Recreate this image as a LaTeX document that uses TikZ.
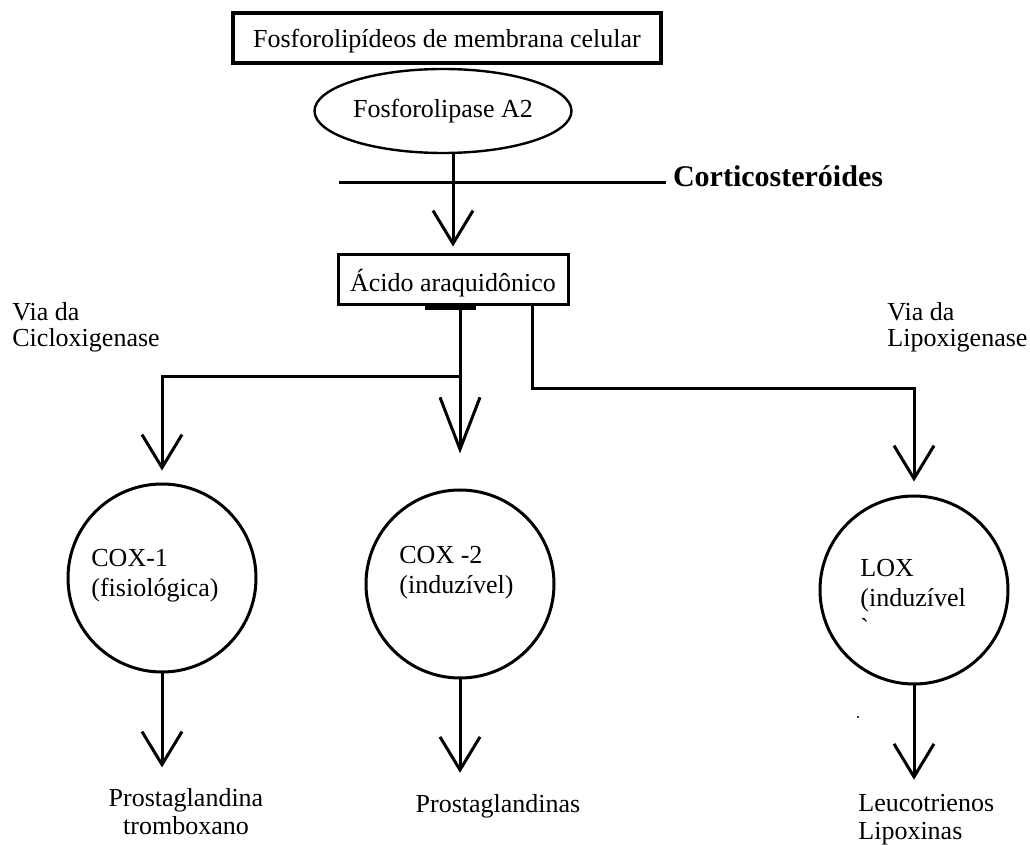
\documentclass[tikz,border=0pt]{standalone}
\usepackage{fontspec}
\setmainfont{Liberation Serif}
\usetikzlibrary{arrows.meta}
\usetikzlibrary{calc}
\usetikzlibrary{shapes.geometric}
\tikzset{caixa/.style={draw,line width=#1,inner sep=0pt,text depth=0pt},caixa/.default=1.5pt}
\tikzset{seta/.style={line width=1.5pt,-{Straight Barb[length=#1,width=20pt]}},seta/.default=16.5pt}
\tikzset{enzima/.style={draw,circle,line width=1.5pt,minimum size=94pt,inner sep=0pt}}
\tikzset{rotulo/.style={inner sep=0pt,align=left,font=\fontsize{13}{#1}\selectfont},rotulo/.default=14pt}

\begin{document}
\begin{tikzpicture}[x=0.5pt,y=-0.5pt,font=\fontsize{13}{14}\selectfont]
	\useasboundingbox (0,0) rectangle (1030,845);

	% Membrana, enzima e acido
	\node [caixa=2pt,minimum width=214pt,minimum height=25pt] (fosfo) at (447,38) {Fosforolipídeos de membrana celular};
	\node [draw,ellipse,line width=1.2pt,minimum width=128.5pt,minimum height=42pt,inner sep=0pt] (pla2) at (443,111) {Fosforolipase A2};
	\node [caixa,minimum width=115pt,minimum height=25pt] (aa) at (453,280) {Ácido araquidônico};
	\draw [line width=2pt] ($(aa.south)+(-28,2)$) -- ($(aa.south)+(23,2)$);

	% Bloqueio pelos corticosteroides
	\node [anchor=base west,font=\fontsize{15}{18}\selectfont\bfseries] (corti) at (666,187) {Corticosteróides};
	\coordinate (barra) at (339,183);
	\draw [line width=1.5pt] (barra) -- (barra -| corti.west);
	\draw [seta,shorten >=3.5pt] (pla2.south -| aa.north) -- (aa.north);

	% As tres enzimas
	\node [enzima] (cox1) at (162,578) {};
	\node [enzima] (cox2) at (460,584) {};
	\node [enzima] (lox) at (914,590) {};
	\node [rotulo=15pt,anchor=west] (cox1txt) at ($(cox1)+(-71,-2)$) {COX-1\\(fisiológica)};
	\node [rotulo=15pt,anchor=west] (cox2txt) at ($(cox2)+(-61,-11)$) {COX -2\\(induzível)};
	\node [rotulo=15pt,anchor=west] (loxtxt) at ($(lox)+(-54,8)$) {LOX\\(induzível\\\textasciigrave};
	\fill ($(lox)+(-56,127)$) circle (0.6pt);

	% Vias
	\node [rotulo=13pt,anchor=west] (viaC) at (12,327) {Via da\\Cicloxigenase};
	\node [rotulo=13pt,anchor=west] (viaL) at (887,327) {Via da\\Lipoxigenase};
	\coordinate (ramoC) at (460,377);
	\coordinate (ramoL) at (532,389);
	\draw [seta=26pt,shorten >=17.5pt] (aa.south -| cox2.north) -- (cox2.north);
	\draw [seta,shorten >=6pt] (ramoC) -| (cox1.north);
	\draw [seta,shorten >=6.5pt] (aa.south -| ramoL) -- (ramoL) -| (lox.north);

	% Produtos
	\node [rotulo,align=center] (pg1) at (186,812) {Prostaglandina\\tromboxano};
	\node [rotulo] (pg2) at (498,806) {Prostaglandinas};
	\node [rotulo,anchor=west] (lt) at (858,820) {Leucotrienos\\Lipoxinas};
	\draw [seta,shorten >=10.5pt] (cox1.south) -- (cox1.south |- pg1.north);
	\draw [seta,shorten >=10.5pt] (cox2.south) -- (cox2.south |- pg2.north);
	\draw [seta,shorten >=7.25pt] (lox.south) -- (lox.south |- lt.north);
\end{tikzpicture}
\end{document}
